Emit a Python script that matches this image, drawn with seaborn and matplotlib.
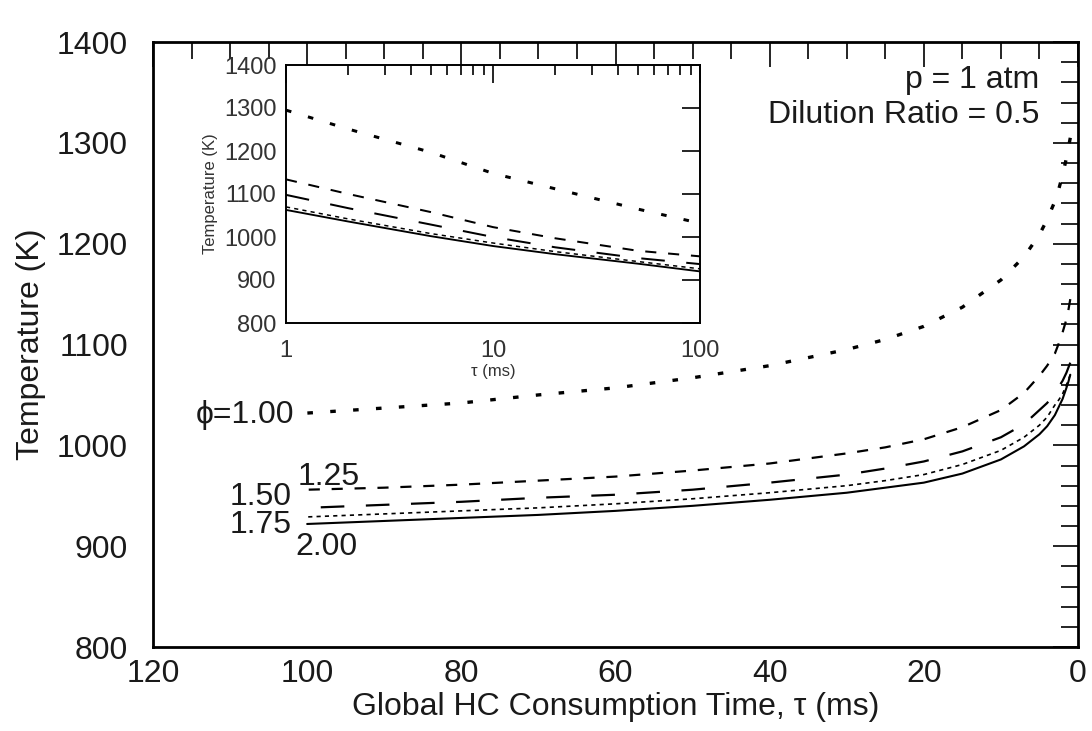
import numpy as np
import pandas as pd
import matplotlib
matplotlib.use("Agg")
import matplotlib.pyplot as plt
from matplotlib.ticker import MultipleLocator, FixedLocator, FixedFormatter, NullFormatter, LogLocator
import seaborn as sns

sns.set_style("white")
plt.rcParams['font.family'] = ['Liberation Sans', 'DejaVu Sans']
plt.rcParams['lines.scale_dashes'] = False

# ---------------- data ----------------
tau = [1, 1.25, 1.5, 2, 2.5, 3, 4, 5, 7, 10, 15, 20, 25, 30, 40, 50, 60, 70, 80, 90, 100]
T_phi100 = [1305, 1295, 1285, 1268, 1254, 1242, 1224, 1209, 1187, 1164, 1137, 1118, 1105, 1095, 1079, 1067, 1057, 1050, 1042, 1037, 1032]
T_phi125 = [1145, 1134, 1125, 1112, 1101, 1091, 1079, 1069, 1052, 1035, 1018, 1006, 998, 992, 982, 975, 969, 965, 961, 958, 956]
T_phi150 = [1082, 1077, 1072, 1064, 1058, 1052, 1042, 1035, 1021, 1008, 994, 984, 977, 971, 963, 956, 951, 948, 944, 941, 938]
T_phi175 = [1070, 1065, 1060, 1051, 1045, 1040, 1028, 1020, 1008, 995, 981, 971, 965, 960, 953, 947, 942, 938, 935, 932, 929]
T_phi200 = [1070, 1063, 1057, 1046, 1038, 1030, 1019, 1011, 999, 986, 972, 963, 958, 953, 946, 940, 935, 931, 928, 925, 922]

# inset (log axis) readings
tau_in = [1, 2, 5, 10, 20, 50, 100]
Tin_phi100 = [1295, 1251, 1197, 1148, 1112, 1065, 1032]
Tin_phi125 = [1134, 1100, 1058, 1023, 997, 968, 955]
Tin_phi150 = [1098, 1067, 1029, 1000, 976, 951, 937]
Tin_phi175 = [1070, 1042, 1008, 986, 966, 943, 926]
Tin_phi200 = [1063, 1036, 1002, 979, 960, 938, 920]

phi_labels = ["\u03d5=1.00", "1.25", "1.50", "1.75", "2.00"]

# ---------------- figure ----------------
fig = plt.figure(figsize=(10.92, 7.31), dpi=100)
ax = fig.add_axes([153/1092, 1-647/731, (1078-153)/1092, (647-42)/731])

styles = [
    dict(lw=2.4, ls=(0, (4.0, 12.5))),
    dict(lw=1.6, ls=(0, (8.0, 8.5))),
    dict(lw=1.6, ls=(0, (17.0, 15.5))),
    dict(lw=1.2, ls=(0, (3.0, 3.0))),
    dict(lw=1.5, ls='-'),
]
main_series = [T_phi100, T_phi125, T_phi150, T_phi175, T_phi200]
for T, st in zip(main_series, styles):
    df = pd.DataFrame({"tau": tau, "T": T})
    sns.lineplot(data=df, x="tau", y="T", ax=ax, color="black",
                 linewidth=st["lw"], linestyle=st["ls"], legend=False)

ax.set_xlim(120, 0)
ax.set_ylim(800, 1400)
ax.xaxis.set_major_locator(MultipleLocator(20))
ax.xaxis.set_minor_locator(MultipleLocator(5))
ax.yaxis.set_major_locator(MultipleLocator(100))
ax.yaxis.set_minor_locator(MultipleLocator(20))
ax.tick_params(which='both', direction='in', top=True, right=True, color='black', width=1.2)
ax.tick_params(which='major', length=18)
ax.tick_params(which='minor', length=12)
ax.tick_params(axis='x', which='major', labelsize=23, pad=9, labelcolor='#1a1a1a')
ax.tick_params(axis='y', which='major', labelsize=23, pad=18, labelcolor='#1a1a1a')
for sp in ax.spines.values():
    sp.set_linewidth(2.0)
    sp.set_color('black')
ax.set_xlabel("Global HC Consumption Time, \u03c4 (ms)", fontsize=23, color='#1a1a1a', labelpad=2)
ax.set_ylabel("Temperature (K)", fontsize=23, color='#1a1a1a', labelpad=8)

ax.text(5.0, 1362, "p = 1 atm", ha='right', va='center', fontsize=23, color='#1a1a1a')
ax.text(5.0, 1328, "Dilution Ratio = 0.5", ha='right', va='center', fontsize=23, color='#1a1a1a')

# curve labels
label_pos = [(114.4, 1030), (101.3, 969), (110.0, 949), (110.0, 921), (101.5, 899)]
for (x, y), s in zip(label_pos, phi_labels):
    ax.text(x, y, s, ha='left', va='center', fontsize=23, color='#1a1a1a')

# ---------------- inset ----------------
axin = fig.add_axes([286/1092, 1-323/731, (700-286)/1092, (323-65)/731])
inset_series = [Tin_phi100, Tin_phi125, Tin_phi150, Tin_phi175, Tin_phi200]
for T, st in zip(inset_series, styles):
    df = pd.DataFrame({"tau": tau_in, "T": T})
    sns.lineplot(data=df, x="tau", y="T", ax=axin, color="black",
                 linewidth=st["lw"] * 0.9, linestyle=st["ls"], legend=False)
axin.set_xscale('log')
axin.set_xlim(1, 100)
axin.set_ylim(800, 1400)
axin.xaxis.set_major_locator(FixedLocator([1, 10, 100]))
axin.xaxis.set_major_formatter(FixedFormatter(["1", "10", "100"]))
axin.xaxis.set_minor_locator(LogLocator(base=10, subs=np.arange(2, 10)))
axin.xaxis.set_minor_formatter(NullFormatter())
axin.yaxis.set_major_locator(MultipleLocator(100))
axin.tick_params(which='both', direction='in', top=True, right=True, color='black', width=1.2)
axin.tick_params(which='major', length=13)
axin.tick_params(which='minor', length=7)
axin.tick_params(axis='both', which='major', labelsize=17, pad=7, labelcolor='#333333')
axin.tick_params(axis='x', which='major', pad=12)
for sp in axin.spines.values():
    sp.set_linewidth(1.4)
    sp.set_color('black')
axin.set_xlabel("\u03c4 (ms)", fontsize=12, color='#333333', labelpad=2)
axin.set_ylabel("Temperature (K)", fontsize=12, color='#333333', labelpad=4)

fig.savefig("out.png", dpi=100)
